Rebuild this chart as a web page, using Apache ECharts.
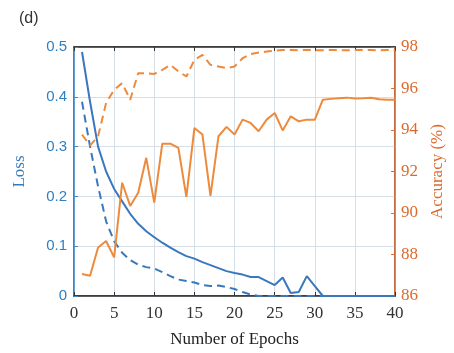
<!DOCTYPE html>
<html>
<head>
<meta charset="utf-8">
<script src="https://cdn.jsdelivr.net/npm/echarts@6/dist/echarts.min.js"></script>
<style>
  html,body{margin:0;padding:0;background:#fff;}
  #chart{width:454px;height:353px;}
</style>
</head>
<body>
<div id="chart"></div>
<script>
// epochs 1..40
const epochs = [1,2,3,4,5,6,7,8,9,10,11,12,13,14,15,16,17,18,19,20,
                21,22,23,24,25,26,27,28,29,30,31,32,33,34,35,36,37,38,39,40];
const lossSolid = [0.49,0.39,0.30,0.25,0.215,0.19,0.165,0.145,0.13,0.118,
                   0.107,0.097,0.088,0.08,0.075,0.068,0.062,0.056,0.05,0.046,
                   0.043,0.038,0.038,0.03,0.022,0.037,0.006,0.008,0.04,0.02,
                   0,0,0,0,0,0,0,0,0,0];
const lossDashed = [0.39,0.30,0.22,0.15,0.11,0.087,0.072,0.063,0.058,0.055,
                    0.048,0.04,0.033,0.03,0.027,0.022,0.02,0.021,0.018,0.014,
                    0.008,0.003,0,0,0,0,0,0,0,0,
                    0,0,0,0,0,0,0,0,0,0];
const accSolid = [87.06,86.98,88.34,88.65,87.86,91.46,90.34,90.98,92.66,90.5,
                  93.34,93.34,93.14,90.78,94.1,93.78,90.82,93.7,94.15,93.78,
                  94.5,94.34,93.94,94.5,94.82,93.98,94.66,94.42,94.5,94.5,
                  95.46,95.5,95.53,95.56,95.52,95.53,95.55,95.48,95.46,95.46];
const accDashed = [93.78,93.25,93.7,95.3,95.94,96.26,95.46,96.74,96.74,96.7,
                   96.9,97.14,96.82,96.58,97.38,97.62,97.14,97.06,96.98,97.06,
                   97.46,97.66,97.73,97.78,97.82,97.86,97.86,97.84,97.86,97.85,
                   97.84,97.86,97.85,97.84,97.86,97.85,97.86,97.84,97.85,97.85];
const xTicks = [0,5,10,15,20,25,30,35,40];

const BLUE = '#3a78bd', ORANGE = '#ee8a3c', AXIS_OR = '#dd6a2c';
const serif = '"Liberation Serif","DejaVu Serif",serif';
const grid = {color:'#d6dee8', width:1};

function pairs(ys){ return epochs.map((e,i)=>[e, ys[i]]); }

const chart = echarts.init(document.getElementById('chart'));
chart.setOption({
  animation:false,
  title:{text:'(d)', left:14, top:6, textStyle:{fontFamily:'"Liberation Sans",Arial,sans-serif', fontSize:16, fontWeight:'normal', color:'#333'}},
  grid:{left:74, right:52, top:47, bottom:56, show:true, borderColor:'#333', borderWidth:1.5, backgroundColor:'transparent'},
  xAxis:[{
    type:'value', min:0, max:40, interval:5, position:'bottom',
    name:'Number of Epochs', nameLocation:'middle', nameGap:35,
    nameTextStyle:{fontFamily:serif, fontSize:17, color:'#222'},
    axisLine:{onZero:false, lineStyle:{color:'#333', width:1.5}},
    axisTick:{inside:true, length:4, lineStyle:{color:'#333'}},
    axisLabel:{fontFamily:serif, fontSize:17, color:'#333', margin:9,
      formatter:v=>xTicks.includes(v)?String(v):''},
    splitLine:{show:true, lineStyle:grid}
  },{
    type:'value', min:0, max:40, interval:5, position:'top',
    axisLine:{show:true, onZero:false, lineStyle:{color:'#333', width:1.5}},
    axisTick:{show:true, inside:true, length:4, lineStyle:{color:'#333'}},
    axisLabel:{show:false}, splitLine:{show:false}
  }],
  yAxis:[{
    type:'value', min:0, max:0.5, interval:0.1, position:'left',
    name:'Loss', nameLocation:'middle', nameGap:46,
    nameTextStyle:{fontFamily:serif, fontSize:17, color:BLUE},
    axisLine:{show:true, onZero:false, lineStyle:{color:'#3b8bd0', width:1.5}},
    axisTick:{show:true, inside:true, length:4, lineStyle:{color:'#3b8bd0'}},
    axisLabel:{fontFamily:'"Liberation Sans",Arial,sans-serif', fontSize:15, color:'#2f7fc1', margin:7,
      formatter:v=>v===0?'0':v.toFixed(1)},
    splitLine:{show:true, lineStyle:grid}
  },{
    type:'value', min:86, max:98, interval:2, position:'right',
    name:'Accuracy (%)', nameLocation:'middle', nameGap:30,
    nameTextStyle:{fontFamily:serif, fontSize:17, color:AXIS_OR},
    axisLine:{show:true, onZero:false, lineStyle:{color:AXIS_OR, width:1.5}},
    axisTick:{show:true, inside:true, length:4, lineStyle:{color:AXIS_OR}},
    axisLabel:{fontFamily:serif, fontSize:17, color:AXIS_OR, margin:6},
    splitLine:{show:false}
  }],
  series:[
    {type:'line', name:'loss', yAxisIndex:0, data:pairs(lossSolid), symbol:'none',
     lineStyle:{color:BLUE, width:2}},
    {type:'line', name:'loss2', yAxisIndex:0, data:pairs(lossDashed), symbol:'none',
     lineStyle:{color:BLUE, width:2, type:[8,5]}},
    {type:'line', name:'acc', yAxisIndex:1, data:pairs(accSolid), symbol:'none',
     lineStyle:{color:ORANGE, width:2}},
    {type:'line', name:'acc2', xAxisIndex:1, yAxisIndex:1, data:pairs(accDashed), symbol:'none',
     lineStyle:{color:ORANGE, width:2, type:[8,5]}}
  ]
});
</script>
</body>
</html>
